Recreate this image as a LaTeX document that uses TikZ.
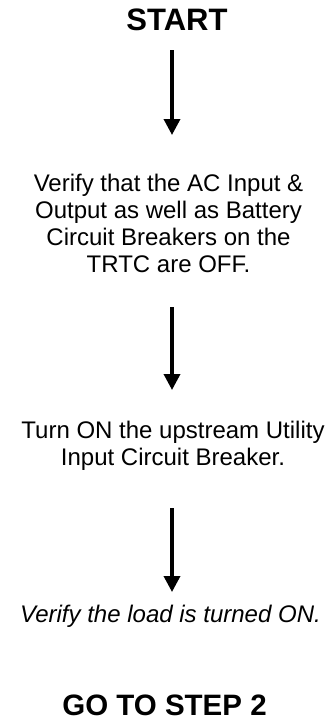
\documentclass[tikz,border=0pt]{standalone}
\usepackage{fontspec}
\setmainfont{Liberation Sans}
\usetikzlibrary{arrows.meta}
\begin{document}
\begin{tikzpicture}[x=1pt,y=1pt,
  body/.style={inner sep=0pt, align=center, font=\fontsize{24}{27}\selectfont, anchor=base},
  title/.style={inner sep=0pt, font=\fontsize{31}{36}\selectfont\bfseries, anchor=base},
  arr/.style={line width=3.5pt, -{Triangle[width=16pt,length=16pt]}}]
\useasboundingbox (0,0) rectangle (329,-720);
\node[title] (start) at (177,-30) {START};
\node[body] (p1) at (168.5,-272) {Verify that the AC Input \&\\Output as well as Battery\\Circuit Breakers on the\\TRTC are OFF.};
\node[body] (p2) at (173,-465) {Turn ON the upstream Utility\\Input Circuit Breaker.};
\node[body, font=\fontsize{24}{27}\selectfont\itshape] (p3) at (170.5,-622) {Verify the load is turned ON.};
\node[title, font=\fontsize{29.5}{34}\selectfont\bfseries] (go) at (164.5,-715) {GO TO STEP 2};
\coordinate (a1s) at (172,-50);
\coordinate (a1e) at (172,-135);
\coordinate (a2s) at (172,-307);
\coordinate (a2e) at (172,-390);
\coordinate (a3s) at (172,-508);
\coordinate (a3e) at (172,-592);
\draw[arr] (a1s) -- (a1e);
\draw[arr] (a2s) -- (a2e);
\draw[arr] (a3s) -- (a3e);
\end{tikzpicture}
\end{document}
